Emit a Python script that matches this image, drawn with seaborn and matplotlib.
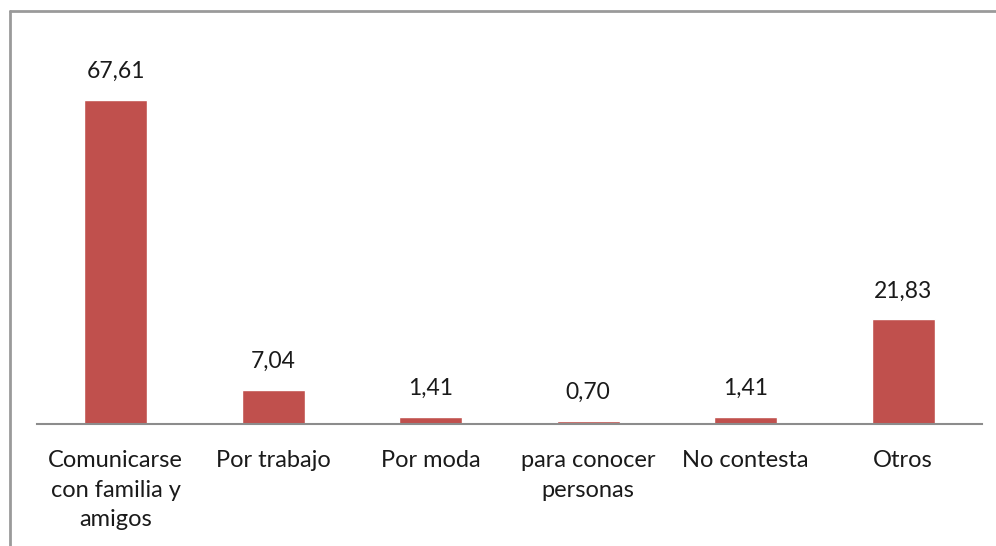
import matplotlib
matplotlib.use("Agg")
import matplotlib.pyplot as plt
import seaborn as sns
import pandas as pd
from matplotlib.lines import Line2D

categories = [
    "Comunicarse\ncon familia y\namigos",
    "Por trabajo",
    "Por moda",
    "para conocer\npersonas",
    "No contesta",
    "Otros",
]
values = [67.61, 7.04, 1.41, 0.70, 1.41, 21.83]
value_labels = ["67,61", "7,04", "1,41", "0,70", "1,41", "21,83"]

sns.set_theme(style="white")
plt.rcParams["font.family"] = ["Lato", "DejaVu Sans"]

df = pd.DataFrame({"motivo": categories, "porcentaje": values})

fig = plt.figure(figsize=(9.96, 5.46), dpi=100)
ax = fig.add_axes([37 / 996, 1 - 424 / 546, (982 - 37) / 996, (424 - 41) / 546])

sns.barplot(data=df, x="motivo", y="porcentaje", color="#C0504D",
            width=0.40, saturation=1, ax=ax)

ax.set_ylim(0, 80)
ax.set_xlim(-0.5, len(categories) - 0.5)
ax.set_xlabel("")
ax.set_ylabel("")
ax.set_yticks([])
for side in ["top", "right", "left"]:
    ax.spines[side].set_visible(False)
ax.spines["bottom"].set_color("#8C8C8C")
ax.spines["bottom"].set_linewidth(1.5)
ax.tick_params(axis="x", length=0, pad=19, labelsize=17, labelcolor="#1A1A1A")
for t in ax.get_xticklabels():
    t.set_linespacing(1.5)

for i, (v, lab) in enumerate(zip(values, value_labels)):
    ax.annotate(lab, xy=(i, v), xytext=(0, 13), textcoords="offset points",
                ha="center", va="bottom", fontsize=16.5, color="#1A1A1A")

# outer chart frame (left and top edges)
fig.add_artist(Line2D([9.5 / 996, 9.5 / 996], [0, 1 - 11 / 546],
                      transform=fig.transFigure, color="#9A9A9A", lw=2))
fig.add_artist(Line2D([9.5 / 996, 1], [1 - 11 / 546, 1 - 11 / 546],
                      transform=fig.transFigure, color="#9A9A9A", lw=2))

fig.savefig("out.png", dpi=100)
